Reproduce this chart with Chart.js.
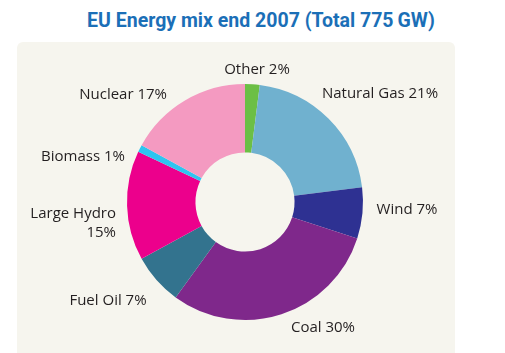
<!DOCTYPE html>
<html>
<head>
<meta charset="utf-8">
<script src="https://cdn.jsdelivr.net/npm/chart.js@4.4.1/dist/chart.umd.min.js"></script>
<style>
  html, body { margin: 0; padding: 0; background: #fff; }
  #wrap { position: relative; width: 505px; height: 353px; overflow: hidden; }
  #title {
    position: absolute; left: 0; top: 9px; width: 522px; text-align: center;
    font-family: Roboto, "Liberation Sans", sans-serif; font-weight: bold; font-size: 19.5px;
    color: #1b6fb7;
  }
  #panel {
    position: absolute; left: 17px; top: 42px; width: 438px; height: 320px;
    background: #f6f5ee; border-radius: 6px;
  }
  #chart { position: absolute; left: 0; top: 0; }
</style>
</head>
<body>
<div id="wrap">
  <div id="title">EU Energy mix end 2007 (Total 775&#8201;GW)</div>
  <div id="panel"></div>
  <canvas id="chart" width="505" height="353"></canvas>
</div>
<script>
const sources = ['Other', 'Natural Gas', 'Wind', 'Coal', 'Fuel Oil', 'Large Hydro', 'Biomass', 'Nuclear'];
const shares = [2, 21, 7, 30, 7, 15, 1, 17];
const colours = ['#6cbf45', '#70b1cf', '#2e3192', '#7f288b', '#33738e', '#ec008c', '#2ec4f0', '#f49ac1'];

// label placement, offsets from the doughnut centre (x, y, align)
const labelSpots = [
    [12, -132, 'center'],
    [135, -108, 'center'],
    [162, 8, 'center'],
    [78, 126, 'center'],
    [-137, 99, 'center'],
    [-129, 12, 'right'],
    [-120, -45, 'right'],
    [-78, -107, 'right']
];

// draws the "Name xx%" labels around the ring
const sliceLabels = {
    id: 'sliceLabels',
    afterDatasetsDraw(chart) {
        const ctx = chart.ctx;
        const arc = chart.getDatasetMeta(0).data[0];
        const cx = arc.x, cy = arc.y;
        ctx.save();
        ctx.font = '15px "Open Sans", sans-serif';
        ctx.fillStyle = '#231f20';
        ctx.textBaseline = 'middle';
        sources.forEach((name, i) => {
            const [dx, dy, align] = labelSpots[i];
            ctx.textAlign = align;
            if (name === 'Large Hydro') {
                ctx.fillText(name, cx + dx, cy + dy);
                ctx.fillText(shares[i] + '%', cx + dx, cy + dy + 19);
            } else {
                ctx.fillText(name + ' ' + shares[i] + '%', cx + dx, cy + dy);
            }
        });
        ctx.restore();
    }
};

new Chart(document.getElementById('chart'), {
    type: 'doughnut',
    data: {
        labels: sources,
        datasets: [{
            data: shares,
            backgroundColor: colours,
            borderWidth: 0
        }]
    },
    options: {
        responsive: false,
        animation: false,
        cutout: '42%',
        layout: { padding: { left: 127, right: 142, top: 84, bottom: 33 } },
        plugins: { legend: { display: false }, tooltip: { enabled: false } }
    },
    plugins: [sliceLabels]
});
</script>
</body>
</html>
